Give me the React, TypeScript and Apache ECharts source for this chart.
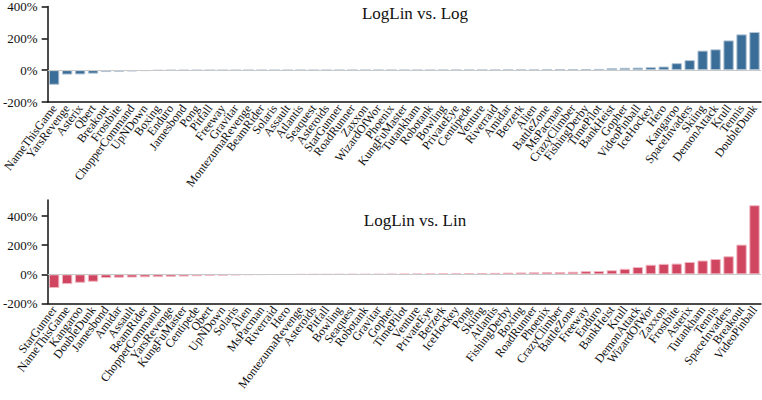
import React, { useEffect, useRef } from "react";
import * as echarts from "echarts";

const logCats = [
  "NameThisGame", "YarsRevenge", "Asterix", "Qbert", "Breakout", "Frostbite", "ChopperCommand", "UpNDown",
  "Boxing", "Enduro", "Jamesbond", "Pong", "Pitfall", "Freeway", "Gravitar", "MontezumaRevenge", "BeamRider",
  "Solaris", "Assault", "Atlantis", "Seaquest", "Asteroids", "StarGunner", "RoadRunner", "Zaxxon", "WizardOfWor",
  "Phoenix", "KungFuMaster", "Tutankham", "Robotank", "Bowling", "PrivateEye", "Centipede", "Venture", "Riverraid",
  "Amidar", "Berzerk", "Alien", "BattleZone", "MsPacman", "CrazyClimber", "FishingDerby", "TimePilot", "BankHeist",
  "Gopher", "VideoPinball", "IceHockey", "Hero", "Kangaroo", "SpaceInvaders", "Skiing", "DemonAttack", "Krull",
  "Tennis", "DoubleDunk",
];
const logVals = [
  -92, -28, -27, -22, -12, -10, -8, -5,
  -2, -1, -0.6, -0.4, -0.3, -0.2, -0.1, 0, 0,
  0, 0, 0.1, 0.1, 0.2, 0.2, 0.3, 0.3, 0.4,
  0.4, 0.5, 0.6, 0.8, 1, 1.2, 1.4, 1.6, 1.8,
  2.2, 2.6, 3, 3.5, 5, 6, 7, 8, 13,
  15, 16, 19, 23, 44, 63, 123, 131, 187,
  225, 240,
];

const linCats = [
  "StarGunner", "NameThisGame", "Kangaroo", "DoubleDunk", "Jamesbond", "Amidar", "Assault", "BeamRider",
  "ChopperCommand", "YarsRevenge", "KungFuMaster", "Centipede", "Qbert", "UpNDown", "Solaris", "Alien", "MsPacman",
  "Riverraid", "Hero", "MontezumaRevenge", "Asteroids", "Pitfall", "Bowling", "Seaquest", "Robotank", "Gravitar",
  "Gopher", "TimePilot", "Venture", "PrivateEye", "Berzerk", "IceHockey", "Pong", "Skiing", "Atlantis",
  "FishingDerby", "Boxing", "RoadRunner", "Phoenix", "CrazyClimber", "BattleZone", "Freeway", "Enduro", "BankHeist",
  "Krull", "DemonAttack", "WizardOfWor", "Zaxxon", "Frostbite", "Asterix", "Tutankham", "Tennis", "SpaceInvaders",
  "Breakout", "VideoPinball",
];
const linVals = [
  -94, -67, -58, -51, -25, -23, -22, -20,
  -19, -17, -15, -13, -10, -9, -6, -4, -3,
  -2, -1.5, -1, -0.5, -0.2, 0, 0.3, 0.6, 1,
  2, 3, 4, 5, 6, 7, 8, 9, 10,
  12, 13, 14, 15, 16, 18, 22, 23, 28,
  38, 50, 66, 72, 74, 85, 95, 105, 124,
  204, 474,
];

const yTicks = [-200, 0, 200, 400];

const FONT = "Liberation Serif";

export default function App() {
  const ref = useRef<HTMLDivElement>(null);
  useEffect(() => {
    if (!ref.current) return;
    const chart = echarts.init(ref.current, null, { renderer: "svg" });
    const grids = [
      { left: 42, right: 1, top: 6, height: 96 },
      { left: 42, right: 1, top: 200, height: 103.5 },
    ];
    const mkX = (cats: string[], gi: number) => ({
      type: "category",
      gridIndex: gi,
      data: cats,
      axisLine: { onZero: false, lineStyle: { color: "#111", width: 1.5 } },
      axisTick: { alignWithLabel: true, length: 5, lineStyle: { color: "#111", width: 1.5 } },
      axisLabel: {
        interval: 0,
        rotate: 53,
        fontFamily: FONT,
        fontSize: 12,
        color: "#111",
        margin: 4,
      },
    });
    const mkY = (gi: number, max: number) => ({
      type: "value",
      gridIndex: gi,
      min: -200,
      max,
      interval: 200,
      splitLine: { show: false },
      axisLine: { show: true, lineStyle: { color: "#111", width: 1.5 } },
      axisTick: { show: true, length: 6, customValues: yTicks, lineStyle: { color: "#111", width: 1.5 } },
      axisLabel: {
        showMaxLabel: max === 400,
        formatter: (v: number) => (yTicks.indexOf(v) >= 0 ? `${v}%` : ""),
        fontFamily: FONT,
        fontSize: 13,
        color: "#111",
        margin: 10,
      },
    });
    const zeroLine = (gi: number) => ({
      type: "line",
      xAxisIndex: gi,
      yAxisIndex: gi,
      data: [],
      z: 1,
      silent: true,
      markLine: {
        silent: true,
        symbol: "none",
        label: { show: false },
        lineStyle: { color: "#c9c9c9", width: 1, type: "solid" },
        data: [{ yAxis: 0 }],
      },
    });
    chart.setOption({
      animation: false,
      textStyle: { fontFamily: FONT },
      grid: grids,
      xAxis: [mkX(logCats, 0), mkX(linCats, 1)],
      yAxis: [mkY(0, 400), mkY(1, 510)],
      graphic: [
        {
          type: "text",
          x: 415,
          y: 13,
          style: { text: "LogLin vs. Log", font: `17px "${FONT}"`, fill: "#111", align: "center", verticalAlign: "middle" },
        },
        {
          type: "text",
          x: 415,
          y: 220,
          style: { text: "LogLin vs. Lin", font: `17px "${FONT}"`, fill: "#111", align: "center", verticalAlign: "middle" },
        },
      ],
      series: [
        zeroLine(0),
        zeroLine(1),
        {
          type: "bar",
          xAxisIndex: 0,
          yAxisIndex: 0,
          data: logVals,
          z: 3,
          barCategoryGap: "20%",
          itemStyle: { color: "#3a6e99", borderColor: "#b4c5d5", borderWidth: 1 },
        },
        {
          type: "bar",
          xAxisIndex: 1,
          yAxisIndex: 1,
          data: linVals,
          z: 3,
          barCategoryGap: "20%",
          itemStyle: { color: "#d0455f", borderColor: "#f0b6c2", borderWidth: 1 },
        },
      ],
    });
    return () => chart.dispose();
  }, []);
  return <div ref={ref} style={{ width: 762, height: 400, position: "absolute", left: 0, top: 0 }} />;
}
